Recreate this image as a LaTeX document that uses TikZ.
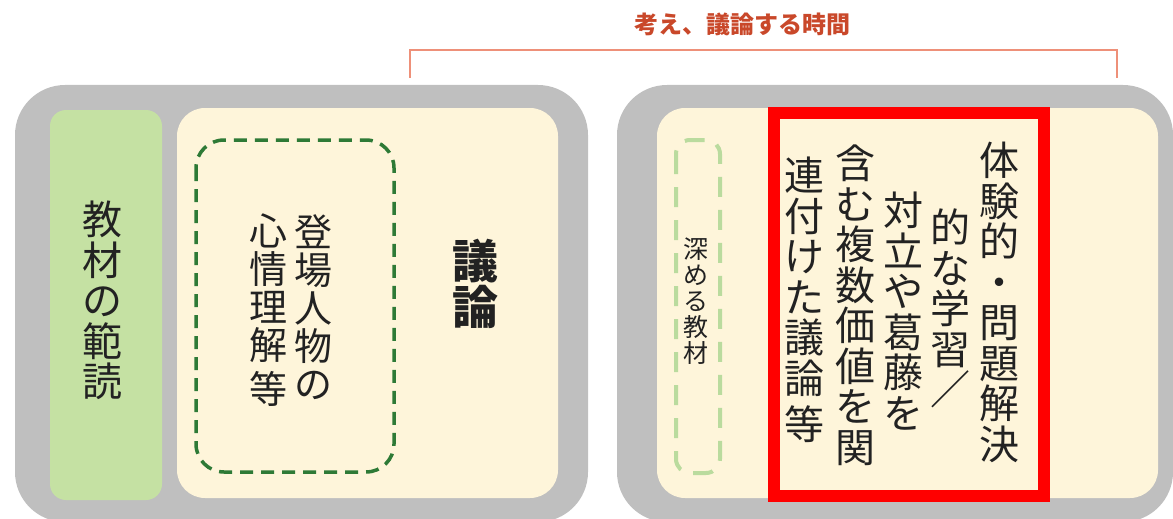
\documentclass[tikz,border=0pt]{standalone}
\usepackage{fontspec}
\setmainfont{Noto Sans CJK JP}
\definecolor{boxgray}{HTML}{BFBFBF}
\definecolor{cream}{HTML}{FEF5DA}
\definecolor{leafgreen}{HTML}{C5E1A3}
\definecolor{dashgreen}{HTML}{2E7A36}
\definecolor{palegreen}{HTML}{BADB9E}
\definecolor{titlered}{HTML}{C9482A}
\definecolor{bracketred}{HTML}{EE9079}
\definecolor{ink}{HTML}{222222}
\tikzset{
  outerbox/.style={fill=boxgray, rounded corners=50pt},
  innerbox/.style={fill=cream, rounded corners=28pt},
  tate/.style={align=center, inner sep=0pt, text=ink, anchor=north,
    font=\fontsize{40}{40.5}\selectfont},
  tatesmall/.style={tate, font=\fontsize{25}{26}\selectfont}
}
\begin{document}
\begin{tikzpicture}[x=1pt,y=-1pt]
  \useasboundingbox (0,0) rectangle (1173,519);
  % title and bracket
  \node[text=titlered, font=\fontsize{24}{26}\bfseries\selectfont] (title) at (742,24) {考え、議論する時間};
  \draw[bracketred, line width=2.5pt] (410,78) -- (410,50) -- (1117,50) -- (1117,78);
  % left block
  \fill[outerbox] (15,85) rectangle (588,522);
  \fill[leafgreen, rounded corners=16pt] (50,110) rectangle (162,500);
  \fill[innerbox] (177,108) rectangle (558,498);
  \draw[dashgreen, line width=3.5pt, dash pattern=on 13pt off 8pt, rounded corners=28pt]
    (196,140) rectangle (394,472);
  \node[tate] (hando) at (102,201) {教\\材\\の\\範\\読};
  \node[tate, font=\fontsize{38}{38}\selectfont] (tojo) at (313,214) {登\\場\\人\\物\\の};
  \node[tate, font=\fontsize{38}{38}\selectfont] (shinjo) at (268,214) {心\\情\\理\\解\\[6pt]等};
  \node[tate, font=\fontsize{46}{46}\bfseries\selectfont] (giron) at (475,239) {議\\論};
  % right block
  \fill[outerbox] (617,85) rectangle (1173,522);
  \fill[innerbox] (657,108) rectangle (1158,498);
  \draw[palegreen, line width=4pt, dash pattern=on 20pt off 13pt, rounded corners=14pt]
    (676,140) rectangle (720,473);
  \node[tatesmall] (fukameru) at (696,238) {深\\め\\る\\教\\材};
  \draw[red, line width=12pt] (774,113) rectangle (1044,496);
  \node[tate] (col1) at (999,142) {体\\験\\的\\・\\問\\題\\解\\決};
  \node[tate] (col2) at (950,209) {的\\な\\学\\習\\／};
  \node[tate] (col3) at (903,192) {対\\立\\や\\葛\\藤\\を};
  \node[tate] (col4) at (855,145) {含\\む\\複\\数\\価\\値\\を\\関};
  \node[tate] (col5) at (804,157) {連\\付\\け\\た\\議\\論\\[6pt]等};
\end{tikzpicture}
\end{document}
